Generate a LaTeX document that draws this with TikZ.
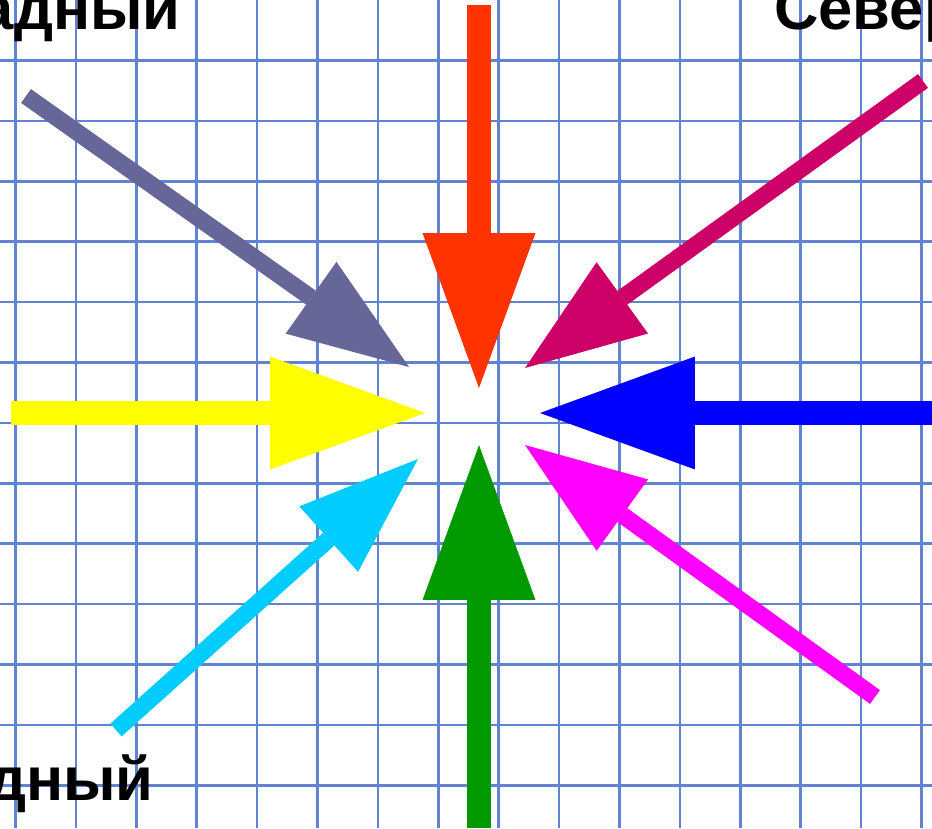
\documentclass[tikz,border=0pt]{standalone}
\usepackage{fontspec}
\setmainfont{Liberation Sans}
\usetikzlibrary{arrows.meta}
\definecolor{gridblue}{RGB}{98,130,210}
\definecolor{windred}{HTML}{FF3300}
\definecolor{windgray}{HTML}{666699}
\definecolor{windberry}{HTML}{CC0066}
\definecolor{windyellow}{HTML}{FFFF00}
\definecolor{windblue}{HTML}{0000FF}
\definecolor{windcyan}{HTML}{00CCFF}
\definecolor{windgreen}{HTML}{009900}
\definecolor{windpink}{HTML}{FF00FF}

\begin{document}
\begin{tikzpicture}[
  x=0.02cm, y=-0.02cm,
  cell/.style={draw=gridblue, line width=0.05cm},
  axis/.style={line width=0.48cm, -{Triangle[length=3.1cm, width=2.26cm, line width=0pt]}},
  diag/.style={line width=0.34cm, -{Triangle[length=2.4cm, width=1.76cm, line width=0pt]}},
  lbl/.style={font=\bfseries\fontsize{35}{37}\selectfont, inner sep=0pt}
]
\useasboundingbox (0,0) rectangle (932,828);
\clip (0,0) rectangle (932,828);
\fill[white] (0,0) rectangle (932,828);

\foreach \i in {0,...,15}
  \draw[cell] (15.5+60.4*\i,0) -- (15.5+60.4*\i,828);
\foreach \j in {0,...,12}
  \draw[cell] (0,60.5+60.4*\j) -- (932,60.5+60.4*\j);

\coordinate (nS) at (479,5);    \coordinate (nT) at (479,388);
\coordinate (sS) at (479,828);  \coordinate (sT) at (479,445);
\coordinate (wS) at (11,413);   \coordinate (wT) at (425,413);
\coordinate (eS) at (932,413);  \coordinate (eT) at (540,413);
\coordinate (nwS) at (26,96);   \coordinate (nwT) at (409,367);
\coordinate (neS) at (923,81);  \coordinate (neT) at (525,368);
\coordinate (seS) at (875,697); \coordinate (seT) at (525,445);
\coordinate (swS) at (116,730); \coordinate (swT) at (418,459);

\draw[axis, windred] (nS) -- (nT);
\draw[axis, windgreen] (sS) -- (sT);
\draw[axis, windyellow] (wS) -- (wT);
\draw[axis, windblue] (eS) -- (eT);
\draw[diag, windgray] (nwS) -- (nwT);
\draw[diag, windberry] (neS) -- (neT);
\draw[diag, windpink] (seS) -- (seT);
\draw[diag, windcyan] (swS) -- (swT);

\node[lbl, anchor=base east] (nwlbl) at (181,30) {адный};
\node[lbl, anchor=base west] (nelbl) at (774,30) {Север};
\node[lbl, anchor=base east] (swlbl) at (154,800) {дный};
\end{tikzpicture}
\end{document}
